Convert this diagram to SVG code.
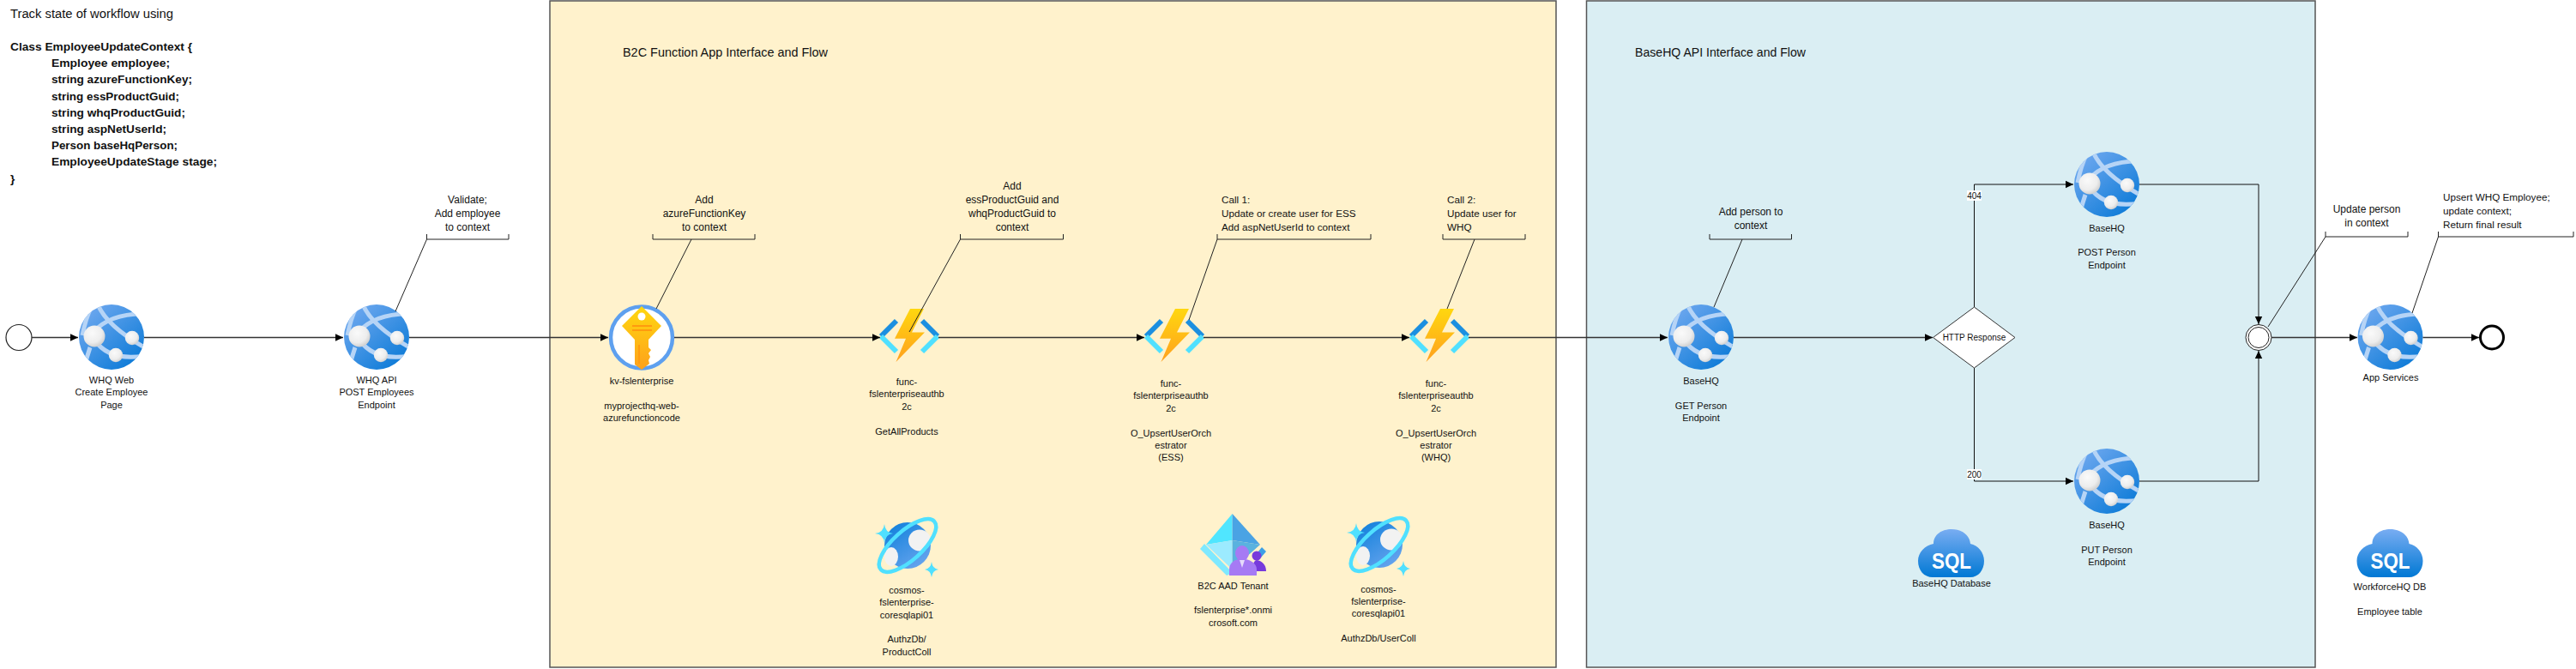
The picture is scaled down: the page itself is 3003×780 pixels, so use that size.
<svg xmlns="http://www.w3.org/2000/svg" width="3003" height="780" viewBox="0 0 3003 780">
<style>
text{font-family:"Liberation Sans",Arial,sans-serif;fill:#111}
.n{font-size:11px;text-anchor:middle}
.c{font-size:12px;text-anchor:middle}
.l{font-size:11.7px}
.h{font-size:14px}
.code{font-size:13.7px;font-weight:bold}
.f{fill:none;stroke:#333;stroke-width:1.5}
.v{fill:none;stroke:#111;stroke-width:1}
.b{fill:none;stroke:#222;stroke-width:1}
.sql{font-size:26px;font-weight:bold;fill:#fff;text-anchor:middle}
</style>
<defs>
<marker id="a" markerUnits="userSpaceOnUse" markerWidth="10" markerHeight="10" refX="9" refY="5" orient="auto"><path d="M0,.8 L9,5 L0,9.2Z" fill="#000"/></marker>
<linearGradient id="gw" x1="0.15" y1="0.1" x2="0.85" y2="0.9"><stop offset="0" stop-color="#6aa6ee"/><stop offset="1" stop-color="#0f7cd8"/></linearGradient>
<radialGradient id="gs" cx=".4" cy=".35" r=".75"><stop offset="0" stop-color="#fafafa"/><stop offset=".6" stop-color="#ededed"/><stop offset="1" stop-color="#c4c4c4"/></radialGradient>
<linearGradient id="gb" x1="0" y1="0" x2="0" y2="1"><stop offset="0" stop-color="#ffd70f"/><stop offset="1" stop-color="#ffa01e"/></linearGradient>
<linearGradient id="gk" x1="0" y1="0" x2="0" y2="1"><stop offset="0" stop-color="#ffd70f"/><stop offset="1" stop-color="#fea11b"/></linearGradient>
<linearGradient id="gc" x1="0.1" y1="0" x2="0.8" y2="1"><stop offset="0" stop-color="#0f7fdb"/><stop offset="1" stop-color="#69a5ee"/></linearGradient>
<linearGradient id="gq" x1="0" y1="0" x2="0" y2="1"><stop offset="0" stop-color="#79adf2"/><stop offset="1" stop-color="#0078d4"/></linearGradient>
<clipPath id="cw"><circle r="38"/></clipPath>
<g id="web">
<circle r="38" fill="url(#gw)"/>
<g clip-path="url(#cw)" fill="none" stroke="#b6d4f6" stroke-width="5">
<path d="M-16,-38 C-9,-21 10,-4 40,13"/>
<path d="M-22,-5 C-9,-20 10,-27 36,-27"/>
<path d="M-20,3 C-8,21 12,26 38,22"/>
<path d="M-24,-34 C-29,-24 -32,-12 -34,-2"/>
<path d="M-25,12 C-28,20 -30,28 -31,36"/>
</g>
<circle cx="-20" cy="-1" r="12.5" fill="url(#gs)"/>
<circle cx="24" cy="1" r="8.2" fill="url(#gs)"/>
<circle cx="5" cy="21" r="8.2" fill="url(#gs)"/>
</g>
<g id="func">
<path d="M-15,-18 L-33,0" stroke="#1b8fe0" stroke-width="6" fill="none"/>
<path d="M-33,0 L-15,18" stroke="#50e0ff" stroke-width="6" fill="none"/>
<path d="M15,-18 L33,0" stroke="#1b8fe0" stroke-width="6" fill="none"/>
<path d="M33,0 L15,18" stroke="#50e0ff" stroke-width="6" fill="none"/>
<path d="M1,-32 H17 L3,-4.5 H18 L-15.5,30 L-4,2.7 H-17Z" fill="url(#gb)"/>
</g>
<g id="cosmos">
<circle r="27" fill="url(#gc)"/>
<ellipse cx="14" cy="-6" rx="13" ry="12.5" fill="#f2f2f2"/>
<ellipse cx="-19" cy="13" rx="8" ry="11" fill="#f2f2f2"/>
<ellipse rx="42" ry="17" transform="rotate(-42)" fill="none" stroke="#50e0ff" stroke-width="4.5"/>
<path d="M-27,-25 Q-26,-15 -17,-14 Q-26,-13 -27,-3 Q-28,-13 -38,-14 Q-28,-15 -27,-25Z" fill="#50e0ff"/>
<path d="M28,19 Q29,27 36,28 Q29,29 28,37 Q27,29 20,28 Q27,27 28,19Z" fill="#50e0ff"/>
</g>
<g id="cloud">
<path d="M-22,28 C-32,28 -39,20 -39,9 C-39,-1 -31,-9 -21,-11 C-21,-22 -11,-28 0,-28 C11,-28 21,-22 22,-11 C31,-9 38,-1 38,9 C38,20 31,28 22,28Z" fill="url(#gq)"/>
<text class="sql" x="0" y="18" textLength="46" lengthAdjust="spacingAndGlyphs">SQL</text>
</g>
</defs>
<rect width="3003" height="780" fill="#fff"/>
<rect id="panel-b2c" x="641" y="1" width="1173" height="777" fill="#fff2cc" stroke="#555" stroke-width="1.5"/>
<rect id="panel-basehq" x="1849.5" y="1" width="849.5" height="777" fill="#daeef3" stroke="#555" stroke-width="1.5"/>
<g id="notes">
<text class="h" x="12" y="21" textLength="190" lengthAdjust="spacingAndGlyphs">Track state of workflow using</text>
<g class="code">
<text x="12" y="59" textLength="212" lengthAdjust="spacingAndGlyphs">Class EmployeeUpdateContext {</text>
<text x="60" y="78" textLength="138" lengthAdjust="spacingAndGlyphs">Employee employee;</text>
<text x="60" y="97" textLength="164" lengthAdjust="spacingAndGlyphs">string azureFunctionKey;</text>
<text x="60" y="117" textLength="149" lengthAdjust="spacingAndGlyphs">string essProductGuid;</text>
<text x="60" y="136" textLength="156" lengthAdjust="spacingAndGlyphs">string whqProductGuid;</text>
<text x="60" y="155" textLength="134" lengthAdjust="spacingAndGlyphs">string aspNetUserId;</text>
<text x="60" y="174" textLength="147" lengthAdjust="spacingAndGlyphs">Person baseHqPerson;</text>
<text x="60" y="193" textLength="193" lengthAdjust="spacingAndGlyphs">EmployeeUpdateStage stage;</text>
<text x="12" y="213">}</text>
</g>
<text class="h" x="726" y="66" textLength="239" lengthAdjust="spacingAndGlyphs">B2C Function App Interface and Flow</text>
<text class="h" x="1906" y="66" textLength="199" lengthAdjust="spacingAndGlyphs">BaseHQ API Interface and Flow</text>
<text class="c"><tspan x="545" y="237">Validate;</tspan><tspan x="545" y="253">Add employee</tspan><tspan x="545" y="269">to context</tspan></text>
<text class="c"><tspan x="821" y="237">Add</tspan><tspan x="821" y="253">azureFunctionKey</tspan><tspan x="821" y="269">to context</tspan></text>
<text class="c"><tspan x="1180" y="221">Add</tspan><tspan x="1180" y="237">essProductGuid and</tspan><tspan x="1180" y="253">whqProductGuid to</tspan><tspan x="1180" y="269">context</tspan></text>
<text class="l"><tspan x="1424" y="237">Call 1:</tspan><tspan x="1424" y="253">Update or create user for ESS</tspan><tspan x="1424" y="269">Add aspNetUserId to context</tspan></text>
<text class="l"><tspan x="1687" y="237">Call 2:</tspan><tspan x="1687" y="253">Update user for</tspan><tspan x="1687" y="269">WHQ</tspan></text>
<text class="c"><tspan x="2041" y="251">Add person to</tspan><tspan x="2041" y="267">context</tspan></text>
<text class="c"><tspan x="2759" y="248">Update person</tspan><tspan x="2759" y="264">in context</tspan></text>
<text class="l"><tspan x="2848" y="234">Upsert WHQ Employee;</tspan><tspan x="2848" y="250">update context;</tspan><tspan x="2848" y="266">Return final result</tspan></text>
</g>
<g id="start"><circle cx="22" cy="393.5" r="15" fill="#fff" stroke="#222" stroke-width="1.2"/></g>
<g id="whq-web"><use href="#web" x="130" y="393"/><text class="n"><tspan x="130" y="447">WHQ Web</tspan><tspan x="130" y="461">Create Employee</tspan><tspan x="130" y="476">Page</tspan></text></g>
<g id="whq-api"><use href="#web" x="439" y="393"/><text class="n"><tspan x="439" y="447">WHQ API</tspan><tspan x="439" y="461">POST Employees</tspan><tspan x="439" y="476">Endpoint</tspan></text></g>
<g id="kv">
<circle cx="748" cy="393.5" r="36" fill="#fff" stroke="#5ea0ef" stroke-width="4.5"/>
<path d="M748,357 L771,380 L756,396 V405 L759,408 L756,412 L758,416 L756,420 L757,424 L748,431 L740,425 V396 L725,380Z" fill="url(#gk)"/>
<circle cx="748" cy="369" r="4.5" fill="#fff"/>
<path d="M737,380 H760 M737,385 H760 M745,402 V424" stroke="#ff9a0f" stroke-width="1.8" fill="none"/>
<text class="n"><tspan x="748" y="448">kv-fslenterprise</tspan><tspan x="748" y="477">myprojecthq-web-</tspan><tspan x="748" y="491">azurefunctioncode</tspan></text>
</g>
<g id="func-products"><use href="#func" x="1060" y="392"/><text class="n"><tspan x="1057" y="449">func-</tspan><tspan x="1057" y="463">fslenterpriseauthb</tspan><tspan x="1057" y="478">2c</tspan><tspan x="1057" y="507">GetAllProducts</tspan></text></g>
<g id="func-ess"><use href="#func" x="1369" y="392"/><text class="n"><tspan x="1365" y="451">func-</tspan><tspan x="1365" y="465">fslenterpriseauthb</tspan><tspan x="1365" y="480">2c</tspan><tspan x="1365" y="509">O_UpsertUserOrch</tspan><tspan x="1365" y="523">estrator</tspan><tspan x="1365" y="537">(ESS)</tspan></text></g>
<g id="func-whq"><use href="#func" x="1678" y="392"/><text class="n"><tspan x="1674" y="451">func-</tspan><tspan x="1674" y="465">fslenterpriseauthb</tspan><tspan x="1674" y="480">2c</tspan><tspan x="1674" y="509">O_UpsertUserOrch</tspan><tspan x="1674" y="523">estrator</tspan><tspan x="1674" y="537">(WHQ)</tspan></text></g>
<g id="cosmos-product"><use href="#cosmos" x="1058" y="636"/><text class="n"><tspan x="1057" y="692">cosmos-</tspan><tspan x="1057" y="706">fslenterprise-</tspan><tspan x="1057" y="721">coresqlapi01</tspan><tspan x="1057" y="749">AuthzDb/</tspan><tspan x="1057" y="764">ProductColl</tspan></text></g>
<g id="cosmos-user"><use href="#cosmos" x="1608" y="635"/><text class="n"><tspan x="1607" y="691">cosmos-</tspan><tspan x="1607" y="705">fslenterprise-</tspan><tspan x="1607" y="719">coresqlapi01</tspan><tspan x="1607" y="748">AuthzDb/UserColl</tspan></text></g>
<g id="b2c-tenant">
<path d="M1399,640 L1404,634 L1437,668 L1430,671Z" fill="#7fe9ff"/>
<path d="M1466,644 L1471,638 L1476,643 L1470,650Z" fill="#3c9fe6"/>
<path d="M1436.6,599 L1406,635 L1436.6,630Z" fill="#50e6ff"/>
<path d="M1436.6,599 L1469,635 L1436.6,630Z" fill="#4aa3e4"/>
<path d="M1406,635 L1436.6,630 L1436.6,664Z" fill="#9cebff"/>
<path d="M1469,635 L1436.6,630 L1436.6,664Z" fill="#5ab2df"/>
<ellipse cx="1465" cy="648" rx="5.5" ry="5.5" fill="#773adc"/>
<path d="M1460,666 C1460,656 1463,653 1465,653 C1471,654 1476,658 1476,666Z" fill="#773adc"/>
<ellipse cx="1448" cy="645" rx="8" ry="9" fill="#a67af4"/>
<path d="M1433,671 V664 C1433,657 1438,653 1444,652 H1452 C1458,653 1465,657 1465,664 V671Z" fill="#a67af4"/>
<path d="M1445,653 H1451 L1448,662Z" fill="#e6dcfb"/>
<text class="n"><tspan x="1437.5" y="687">B2C AAD Tenant</tspan><tspan x="1437.5" y="715">fslenterprise*.onmi</tspan><tspan x="1437.5" y="730">crosoft.com</tspan></text>
</g>
<g id="basehq-get"><use href="#web" x="1983" y="393"/><text class="n"><tspan x="1983" y="448">BaseHQ</tspan><tspan x="1983" y="477">GET Person</tspan><tspan x="1983" y="491">Endpoint</tspan></text></g>
<g id="http-response"><path d="M2253.5,393.5 L2301.5,358 L2349,393.5 L2301.5,429Z" fill="#fff" stroke="#333" stroke-width="1"/><text class="n" x="2301.5" y="397" style="font-size:10px">HTTP Response</text></g>
<g id="basehq-post"><use href="#web" x="2456" y="215"/><text class="n"><tspan x="2456" y="270">BaseHQ</tspan><tspan x="2456" y="298">POST Person</tspan><tspan x="2456" y="313">Endpoint</tspan></text></g>
<g id="basehq-put"><use href="#web" x="2456" y="561"/><text class="n"><tspan x="2456" y="616">BaseHQ</tspan><tspan x="2456" y="645">PUT Person</tspan><tspan x="2456" y="659">Endpoint</tspan></text></g>
<g id="basehq-db"><use href="#cloud" x="2275" y="645"/><text class="n" x="2275" y="684">BaseHQ Database</text></g>
<g id="join"><circle cx="2633" cy="393.5" r="15" fill="#fff" stroke="#222" stroke-width="1"/><circle cx="2633" cy="393.5" r="12" fill="#fff" stroke="#222" stroke-width="1"/></g>
<g id="app-services"><use href="#web" x="2786.5" y="393"/><text class="n" x="2787" y="444">App Services</text></g>
<g id="end"><circle cx="2905" cy="393.5" r="13.5" fill="#fff" stroke="#000" stroke-width="3"/></g>
<g id="workforce-db"><use href="#cloud" x="2786.5" y="645"/><text class="n"><tspan x="2786" y="688">WorkforceHQ DB</tspan><tspan x="2786" y="717">Employee table</tspan></text></g>
<g id="connectors">
<g marker-end="url(#a)">
<path class="f" d="M37,393.5 H91"/>
<path class="f" d="M168,393.5 H400"/>
<path class="f" d="M477,393.5 H709"/>
<path class="f" d="M786,393.5 H1026"/>
<path class="f" d="M1094,393.5 H1334"/>
<path class="f" d="M1403,393.5 H1643"/>
<path class="f" d="M1712,393.5 H1944"/>
<path class="f" d="M2021,393.5 H2253"/>
<path class="v" d="M2301.5,358 V215 H2417"/>
<path class="v" d="M2301.5,429 V561 H2417"/>
<path class="v" d="M2494,215 H2633 V378"/>
<path class="v" d="M2494,561 H2633 V409"/>
<path class="f" d="M2648,393.5 H2748"/>
<path class="f" d="M2824.5,393.5 H2890"/>
</g>
<rect x="2293" y="222" width="17" height="12" fill="#fff"/>
<text x="2301.5" y="232" text-anchor="middle" style="font-size:10px">404</text>
<rect x="2293" y="547" width="17" height="12" fill="#fff"/>
<text x="2301.5" y="557" text-anchor="middle" style="font-size:10px">200</text>
<path class="b" d="M497.5,273 V279 H593 V273 M497.5,279 L461,363"/>
<path class="b" d="M761,273 V279 H880 V273 M806,279 L765,360"/>
<path class="b" d="M1119.5,273 V279 H1239.5 V273 M1119.5,279 L1060,387"/>
<path class="b" d="M1419,273 V279 H1598 V273 M1419,279 L1386,373"/>
<path class="b" d="M1682,273 V279 H1778 V273 M1719,279 L1687,360"/>
<path class="b" d="M1993,273 V279 H2088.5 V273 M2031,279 L1998,358"/>
<path class="b" d="M2711,270 V276 H2807 V270 M2711,276 L2644,381"/>
<path class="b" d="M2842.5,270 V276 H3000 V270 M2842.5,276 L2812,365"/>
</g>
</svg>
